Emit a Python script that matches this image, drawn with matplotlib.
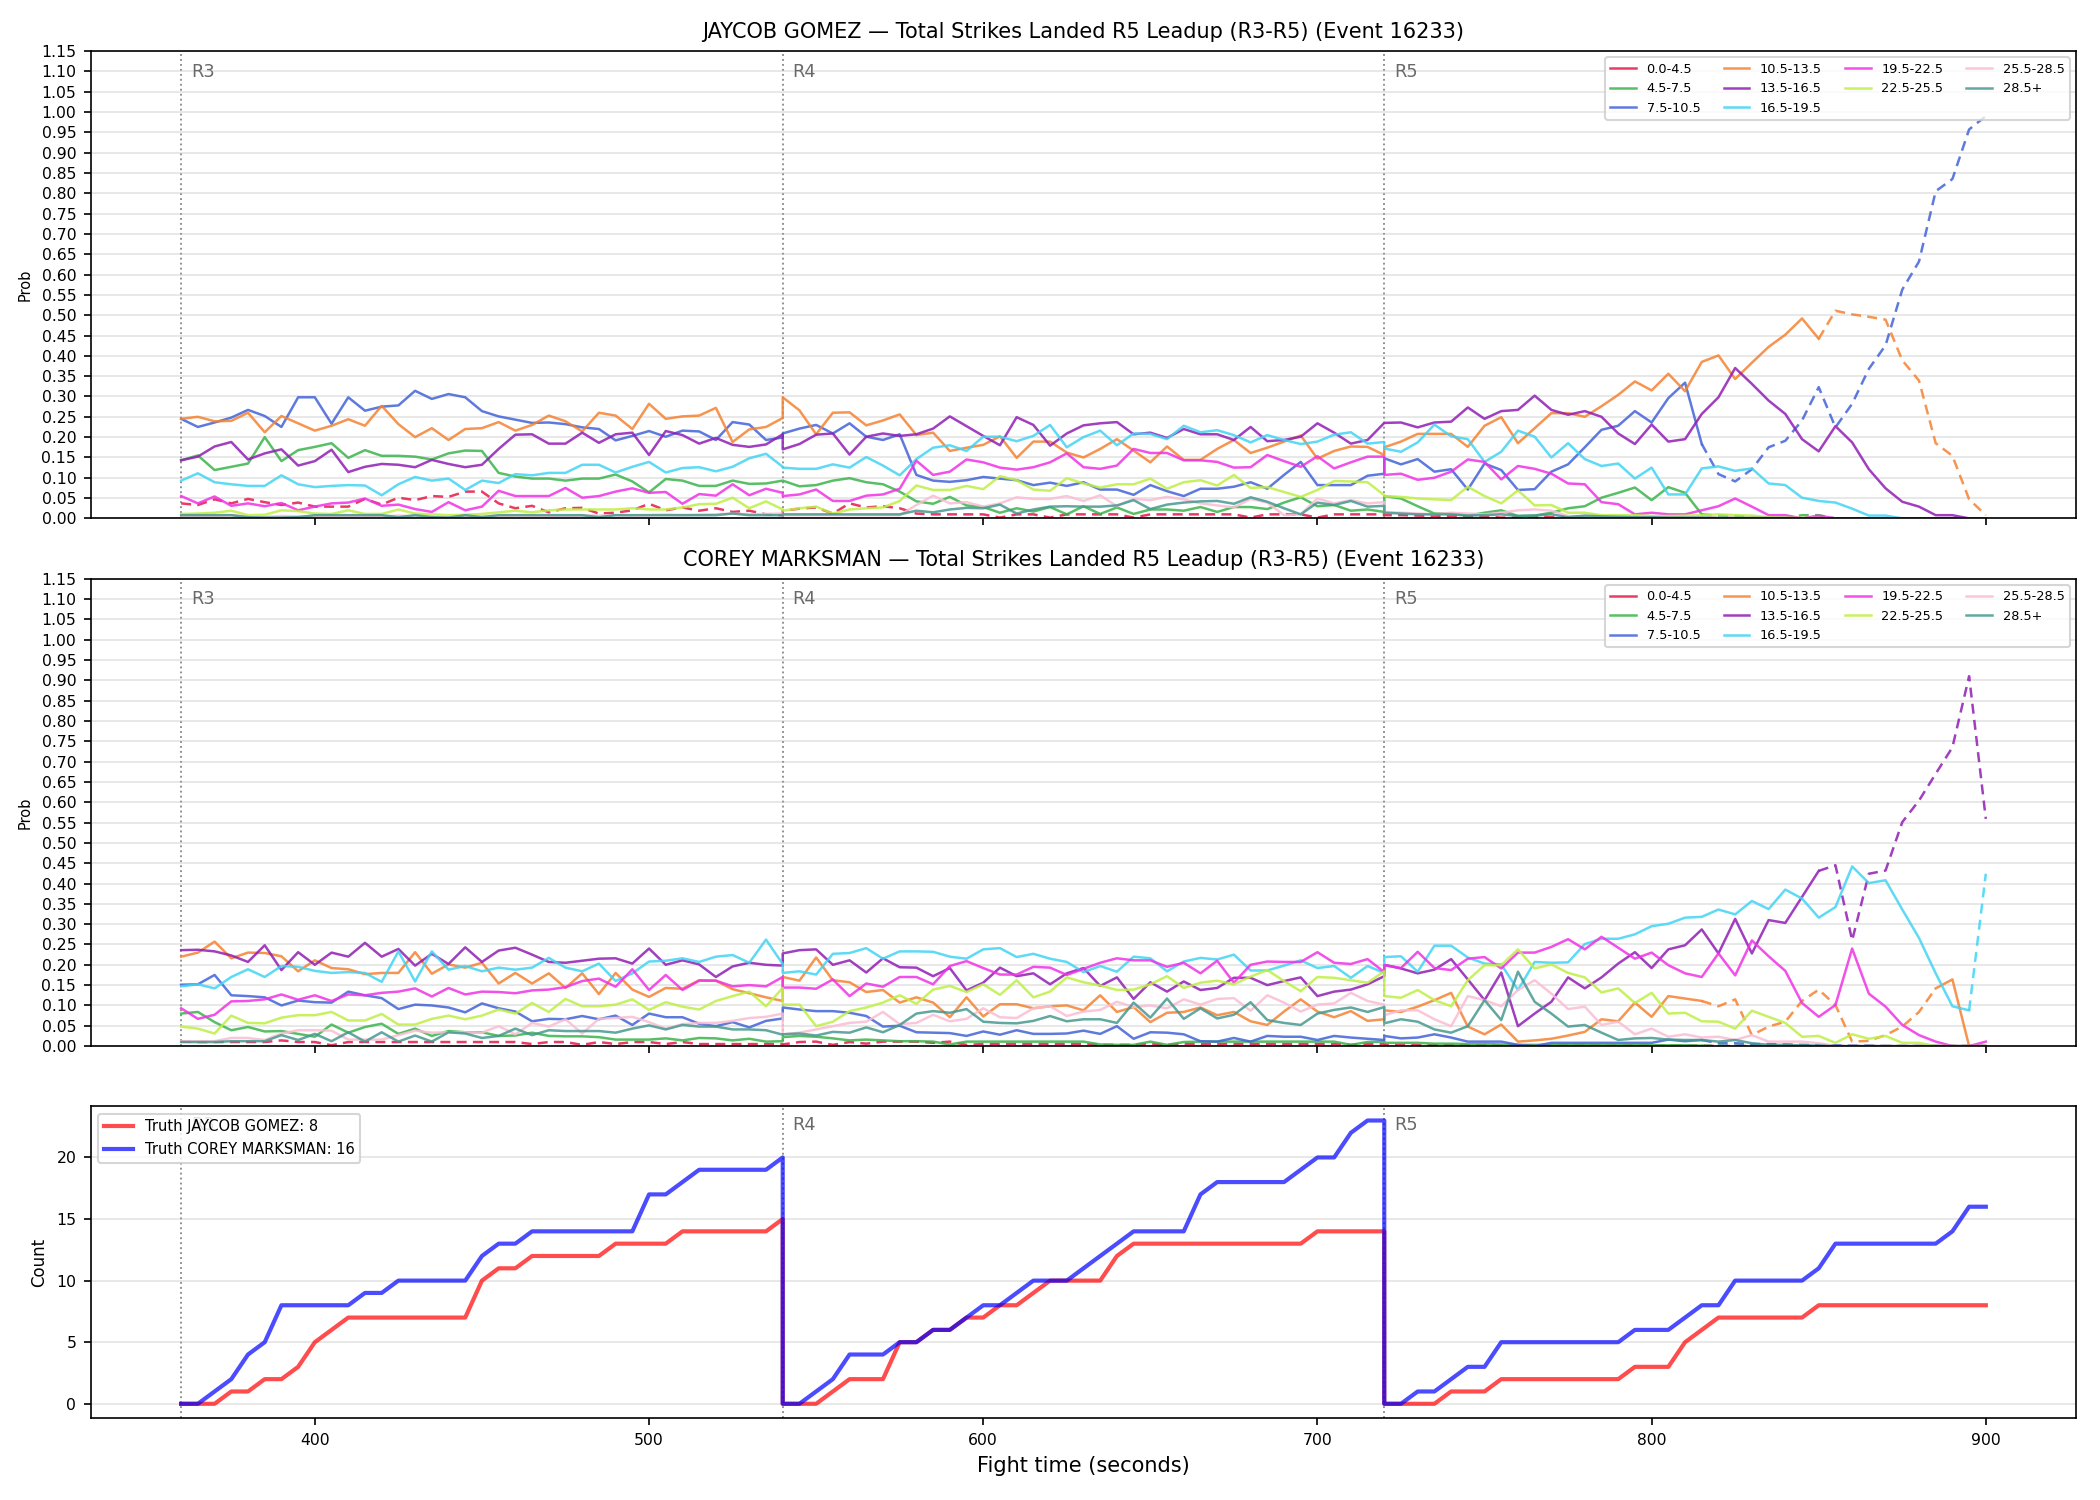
import numpy as np
import matplotlib
matplotlib.use("Agg")
import matplotlib.pyplot as plt
from matplotlib.lines import Line2D

# ---------------- data ----------------
ROUND_STARTS = [360, 540, 720]
ROUND_NAMES = ["R3", "R4", "R5"]
ROUND_LEN = 180
STEP = 5

BIN_LABELS = ["0.0-4.5", "4.5-7.5", "7.5-10.5", "10.5-13.5", "13.5-16.5",
              "16.5-19.5", "19.5-22.5", "22.5-25.5", "25.5-28.5", "28.5+"]
BIN_COLORS = ["#e6194b", "#3cb44b", "#4363d8", "#f58231", "#911eb4",
              "#42d4f4", "#f032e6", "#bfef45", "#fabed4", "#469990"]

# Probabilities in percent, 37 samples per round (R3, R4, R5)
# ---- JAYCOB GOMEZ ----
JG_0_4 = [3.7,3.3,4.7,3.7,4.8,4.0,3.3,3.9,2.9,2.9, 2.9,4.8,3.4,5.1,4.5,5.5,5.3,6.6,6.6,3.7, 2.5,3.1,1.5,2.5,2.6,1.2,1.4,2.0,3.6,2.0, 2.7,1.9,2.5,1.6,1.9,1.0,0.8,
          1.9,2.4,2.7,1.2,3.7,2.7,3.0,2.5,1.2,1.0, 1.0,1.0,1.0,0.2,1.0,1.0,0.2,1.0,1.0,1.0, 1.0,0.2,1.0,1.0,1.0,1.0,1.0,1.0,0.2,1.0, 1.0,1.0,0.2,1.0,1.0,1.0,1.0,
          0.8,0.8,0.7,0.6,0.5,0.5,0.4,0.2,0.2,0.3, 0.3,0.2,0.2,0.1,0.1,0.1,0.1,0.1,0.1,0.1, 0.1,0.1,0.1,0.1,0.1,0.0,0.0,0.0,0.0,0.0, 0.0,0.0,0.0,0.0,0.0,0.0,0.0]
JG_4_7 = [14.3,15.5,11.9,12.7,13.5,20.0,14.1,16.8,17.6,18.5, 14.9,16.8,15.4,15.4,15.2,14.5,16.0,16.7,16.6,11.2, 10.3,9.8,9.8,9.3,9.8,9.8,10.8,9.1,6.4,9.7, 9.3,8.0,8.0,9.3,8.5,8.6,9.3,
          9.3,7.9,8.2,9.3,9.9,8.9,8.4,6.6,4.2,3.6, 5.3,3.2,2.8,1.4,2.5,1.7,2.8,1.0,3.0,1.1, 2.7,1.1,2.2,2.2,1.9,2.8,1.6,2.8,2.8,2.3, 3.9,5.2,3.0,3.3,1.9,2.2,1.6,
          5.5,4.9,3.0,1.2,1.2,0.7,1.4,2.0,0.6,0.7, 1.4,2.5,3.0,5.1,6.3,7.6,4.5,7.7,6.3,1.0, 0.7,0.7,0.3,0.0,0.0,0.8,0.8,0.0,0.0,0.0, 0.0,0.0,0.0,0.0,0.0,0.0,0.0]
JG_7_10 = [24.5,22.5,23.6,24.8,26.7,25.2,22.5,29.8,29.8,23.3, 29.8,26.5,27.5,27.8,31.4,29.4,30.6,29.8,26.4,25.1, 24.3,23.5,23.6,23.2,22.4,22.0,19.2,20.3,21.5,20.1, 21.6,21.4,19.3,23.7,23.1,19.3,19.9,
           20.9,22.1,23.0,20.9,23.4,20.1,19.3,20.7,10.7,9.3, 9.0,9.4,10.2,9.8,9.4,8.2,8.8,8.0,8.9,7.1, 7.1,5.8,8.2,6.7,5.5,7.3,7.3,7.8,8.9,7.3, 10.7,13.9,8.2,8.2,8.2,10.5,11.0,
           14.8,13.3,14.6,11.5,12.1,7.1,13.5,11.9,7.0,7.2, 11.5,13.3,17.5,21.8,22.8,26.4,23.6,29.6,33.4,18.3, 10.9,9.1,12.1,17.5,19.1,24.1,32.3,22.4,28.2,36.8, 42.6,56.3,63.2,80.5,83.5,95.7,99.0]
JG_10_13 = [24.5,25.0,23.9,24.0,26.0,21.2,25.2,23.4,21.6,22.8, 24.4,22.8,27.7,23.2,20.0,22.2,19.3,22.0,22.2,23.7, 21.6,23.0,25.3,23.9,21.4,26.0,25.3,22.0,28.2,24.5, 25.1,25.3,27.2,18.8,21.9,22.5,24.7,
            29.8,26.6,20.7,26.0,26.1,22.9,24.1,25.6,20.5,21.1, 16.6,17.4,18.1,20.2,14.9,18.9,18.9,16.2,15.0,17.1, 19.5,16.7,13.8,17.7,14.4,14.4,17.1,19.3,16.1,17.4, 18.9,20.4,14.7,16.6,17.7,17.6,15.6,
            17.5,18.9,20.8,20.8,20.8,17.6,22.8,24.9,18.5,22.2, 25.9,25.9,25.0,27.6,30.4,33.7,31.5,35.6,31.3,38.5, 40.1,34.3,38.3,42.2,45.2,49.2,44.2,51.1,50.2,49.6, 48.9,38.9,33.9,18.5,15.4,4.7,0.8]
JG_13_16 = [14.3,15.2,17.7,18.8,14.5,16.0,17.0,13.0,14.1,16.9, 11.4,12.7,13.4,13.2,12.6,14.4,13.4,12.6,13.2,17.1, 20.6,20.7,18.4,18.4,21.1,18.6,20.7,21.1,15.6,21.5, 20.5,18.4,19.8,18.1,17.6,18.2,20.7,
            17.0,18.3,20.6,20.9,15.7,20.1,20.9,20.3,20.7,22.1, 25.1,22.7,20.3,18.0,24.9,23.0,17.9,20.9,22.9,23.4, 23.7,20.7,21.1,19.8,22.0,20.7,20.7,19.3,22.5,19.0, 19.3,20.1,23.4,21.1,18.4,19.3,23.5,
            23.5,23.6,22.4,23.6,23.8,27.3,24.5,26.4,26.7,30.2, 26.7,25.5,26.4,25.0,20.9,18.3,23.1,18.9,19.5,25.7, 29.8,37.0,33.1,29.0,25.7,19.5,16.5,22.7,18.7,12.1, 7.4,4.1,2.9,0.8,0.8,0.0,0.0]
JG_16_19 = [9.3,11.1,8.9,8.4,8.0,8.0,10.6,8.4,7.7,8.0, 8.2,8.1,5.7,8.4,10.2,9.3,9.8,7.0,9.3,8.7, 10.9,10.6,11.2,11.2,13.2,13.2,11.3,12.7,13.9,11.3, 12.4,12.6,11.6,12.7,14.8,15.9,12.7,
            12.5,12.2,12.2,13.3,12.5,15.1,13.0,10.6,14.6,17.4, 18.0,16.6,20.1,20.1,19.0,20.3,23.0,17.5,20.0,21.6, 18.0,20.9,20.8,19.5,22.8,21.2,21.7,20.5,18.7,20.5, 19.3,18.3,18.9,20.6,21.2,18.4,18.8,
            17.2,16.4,18.7,23.1,20.2,19.5,13.9,16.4,21.6,20.1, 15.0,18.5,14.6,12.9,13.5,9.8,12.5,5.9,5.9,12.3, 12.8,11.7,12.3,8.6,8.2,5.1,4.3,3.9,2.4,0.7, 0.7,0.0,0.0,0.0,0.0,0.0,0.0]
JG_19_22 = [5.5,3.7,5.4,3.1,3.7,3.0,3.8,2.0,2.9,3.7, 3.9,4.9,3.1,3.4,2.3,1.6,4.0,2.0,2.9,6.8, 5.5,5.5,5.5,7.5,5.1,5.5,6.6,7.4,6.3,6.5, 3.6,6.0,5.6,8.4,5.7,7.3,6.3,
            5.5,5.9,7.1,4.3,4.3,5.6,5.9,7.3,14.2,10.7, 11.5,14.5,13.8,12.5,12.0,12.6,13.8,16.0,12.6,12.2, 13.0,17.1,16.1,16.1,14.3,14.3,13.9,12.5,12.6,15.6, 14.1,12.7,15.3,12.3,13.8,15.2,15.2,
            10.7,11.0,9.5,10.0,11.5,14.5,13.9,9.6,12.9,12.2, 11.0,8.6,8.4,4.0,3.5,1.0,1.4,1.0,1.0,2.0, 3.0,4.9,2.9,0.8,0.8,0.0,0.7,0.0,0.0,0.0, 0.0,0.0,0.0,0.0,0.0,0.0,0.0]
JG_22_25 = [1.1,1.2,1.4,1.9,0.8,0.9,2.0,1.8,1.2,1.1, 2.0,1.1,1.1,2.2,1.2,1.0,0.8,0.9,1.1,1.5, 1.9,1.5,2.0,2.2,2.2,2.2,2.2,2.5,2.2,2.2, 2.7,3.5,3.6,5.1,2.5,4.2,2.2,
            1.9,2.5,2.9,1.2,2.2,2.5,2.7,4.3,8.1,7.0, 7.0,8.0,7.2,10.4,9.4,7.1,6.8,9.9,8.6,7.6, 8.4,8.4,9.8,7.3,8.9,9.4,8.1,10.7,7.5,7.7, 6.5,5.3,7.0,9.2,9.1,8.9,5.7,
            5.5,5.3,4.9,4.7,4.5,7.8,5.5,3.7,6.9,3.2, 3.3,1.4,1.4,0.8,0.8,0.8,0.6,0.6,0.7,0.8, 1.0,0.8,0.7,0.3,0.2,0.1,0.1,0.0,0.0,0.0, 0.0,0.0,0.0,0.0,0.0,0.0,0.0]
JG_25_28 = [0.5,0.6,0.6,0.8,0.5,0.4,0.6,0.5,0.4,0.5, 0.6,0.5,0.5,0.7,0.5,0.5,0.4,0.5,0.6,0.6, 0.7,0.6,0.5,0.6,0.7,0.7,0.8,0.7,0.8,0.9, 0.8,0.9,1.0,1.2,1.0,1.1,1.2,
            0.8,0.8,0.8,0.8,0.8,0.8,0.8,0.8,3.3,5.6, 3.7,4.0,2.9,3.7,5.2,4.8,4.8,5.5,4.3,5.7, 3.0,4.8,4.5,5.3,4.7,3.7,3.2,2.7,4.8,3.9, 0.8,1.0,4.9,3.7,4.5,3.7,4.0,
            1.6,1.4,1.2,1.0,1.4,1.2,1.0,1.4,2.0,2.2, 1.9,0.6,0.5,0.4,0.3,0.3,0.2,0.2,0.2,0.2, 0.1,0.1,0.1,0.1,0.1,0.0,0.0,0.0,0.0,0.0, 0.0,0.0,0.0,0.0,0.0,0.0,0.0]
JG_28P = [0.8,0.8,0.8,0.8,0.3,0.2,0.2,0.3,0.8,0.8, 0.8,0.8,0.8,0.3,0.8,0.3,0.2,0.8,0.3,0.8, 0.8,0.8,0.8,0.8,0.8,0.3,0.8,0.8,0.8,0.8, 0.8,0.8,0.8,1.2,0.8,0.8,0.8,
          1.0,1.0,1.0,1.0,1.0,1.0,1.0,1.0,1.9,1.5, 2.2,2.6,2.5,3.4,1.2,2.2,2.9,3.0,2.9,2.9, 3.2,4.5,2.3,3.4,3.9,4.2,4.3,3.6,5.2,4.1, 2.5,1.0,3.9,3.3,4.3,2.9,3.1,
          1.4,1.2,1.0,1.0,1.0,0.7,0.8,1.0,0.6,0.7, 1.0,0.3,0.7,0.5,0.4,0.3,0.3,0.2,0.2,0.2, 0.1,0.1,0.1,0.1,0.1,0.0,0.0,0.0,0.0,0.0, 0.0,0.0,0.0,0.0,0.0,0.0,0.0]

# ---- COREY MARKSMAN ----
CM_0_4 = [1.1,1.0,1.0,1.0,1.0,1.0,1.4,1.0,1.0,0.2, 1.0,1.0,1.0,1.0,1.0,1.0,1.0,1.0,1.0,1.0, 1.0,0.5,1.0,1.0,0.3,1.0,0.5,1.0,1.0,0.5, 1.0,0.5,0.5,0.5,0.5,0.5,0.5,
          0.4,1.0,1.1,0.3,1.0,0.6,1.1,1.1,1.1,0.8, 1.1,0.3,0.5,0.5,0.5,0.5,0.5,0.5,0.5,0.3, 0.3,0.3,0.5,0.3,0.5,0.5,0.5,0.5,0.5,0.5, 0.5,0.5,0.5,0.5,0.3,0.5,0.5,
          0.3,0.3,0.2,0.2,0.2,0.2,0.2,0.1,0.1,0.1, 0.1,0.1,0.1,0.1,0.1,0.1,0.1,0.1,0.1,0.1, 0.0,0.0,0.0,0.0,0.0,0.0,0.0,0.0,0.0,0.0, 0.0,0.0,0.0,0.0,0.0,0.0,0.0]
CM_4_7 = [8.0,8.4,5.9,3.9,4.7,3.6,3.7,3.0,2.3,5.3, 3.3,4.7,5.5,3.0,4.3,2.5,3.7,3.4,3.4,2.5, 2.6,3.3,2.5,2.4,2.4,2.2,1.6,1.6,1.6,1.9, 1.4,2.0,1.9,1.4,1.8,1.1,1.2,
          2.2,2.5,2.3,1.9,1.4,1.6,1.4,1.2,1.2,1.1, 0.4,1.1,1.1,1.1,1.1,1.1,1.1,1.1,1.1,0.4, 0.3,0.3,1.1,0.3,1.0,1.1,1.1,1.1,1.1,1.1, 1.1,1.1,1.1,1.1,0.3,1.0,1.1,
          0.8,0.8,0.8,0.6,0.6,0.5,0.5,0.4,0.3,0.3, 0.3,0.3,0.3,0.2,0.2,0.2,0.2,0.2,0.2,0.1, 0.1,0.1,0.1,0.1,0.1,0.1,0.0,0.0,0.0,0.0, 0.0,0.0,0.0,0.0,0.0,0.0,0.0]
CM_7_10 = [15.1,15.2,17.5,12.5,12.3,12.0,10.0,11.2,10.8,10.7, 13.4,12.5,11.8,9.1,10.2,10.0,9.5,8.3,10.5,9.3, 8.5,6.1,6.7,6.6,7.4,6.6,7.5,5.2,8.0,7.1, 7.1,5.5,4.9,5.9,4.6,6.2,6.8,
           9.5,9.0,8.6,8.6,8.2,7.4,4.8,5.0,3.4,3.3, 3.2,2.5,3.6,2.8,3.9,3.0,3.0,3.1,3.8,3.0, 4.9,1.8,3.4,3.3,2.9,1.2,1.1,2.0,1.1,2.5, 2.3,2.3,1.5,2.5,2.1,1.8,1.5,
           2.5,1.9,2.1,2.9,2.1,1.1,1.1,1.1,0.3,0.0, 0.8,0.8,0.8,0.8,0.8,0.8,0.8,1.6,1.2,1.5, 0.7,0.7,0.5,0.5,0.4,0.3,0.3,0.2,0.1,0.1, 0.0,0.0,0.0,0.0,0.0,0.0,0.0]
CM_10_13 = [22.0,23.0,25.7,21.6,23.0,22.9,22.1,18.4,21.1,19.2, 18.9,17.7,18.0,18.0,23.1,17.8,20.1,19.3,20.5,15.4, 18.0,15.4,17.9,14.3,17.9,12.8,18.0,13.9,12.1,14.3, 14.1,16.2,16.1,14.0,13.0,12.0,11.1,
            17.0,16.1,21.8,16.2,15.7,13.3,13.8,10.7,12.0,10.7, 7.1,12.0,7.3,10.3,10.3,9.3,9.8,10.0,8.8,12.5, 8.4,9.6,5.9,8.2,8.4,9.5,7.6,8.4,6.1,5.2, 8.5,11.5,8.5,7.1,8.6,6.2,6.6,
            8.8,8.4,9.7,11.3,13.1,4.8,2.9,5.3,1.1,1.4, 1.8,2.6,3.5,6.6,6.1,10.7,7.2,12.3,11.7,11.1, 9.8,11.5,2.7,4.8,6.0,11.1,13.9,10.1,1.1,1.3, 2.7,4.8,8.4,14.2,16.4,0.0,0.0]
CM_13_16 = [23.6,23.7,23.3,22.3,20.7,24.8,18.7,23.1,20.0,23.0, 22.0,25.4,22.0,23.9,19.8,22.7,20.2,24.3,20.7,23.5, 24.2,22.5,20.7,20.5,21.0,21.5,21.6,20.3,24.0,20.0, 21.1,20.1,17.0,19.6,20.5,20.0,19.8,
            22.8,23.6,23.8,20.0,21.1,18.1,21.6,19.4,19.3,17.2, 19.2,13.7,15.6,19.3,17.2,17.9,15.2,17.9,19.2,14.8, 16.9,11.6,15.7,13.4,15.9,13.8,14.3,16.8,16.8,15.0, 16.0,16.9,12.3,13.4,13.9,15.2,17.2,
            20.0,19.1,17.9,18.8,21.4,16.4,11.3,18.1,4.9,8.0, 10.9,16.9,14.2,16.9,20.3,23.1,19.2,23.8,24.8,28.7, 22.8,31.3,22.8,31.0,30.3,36.7,43.1,44.5,26.0,42.4, 43.2,55.1,60.4,67.0,73.5,91.0,55.9]
CM_16_19 = [14.7,15.2,14.2,17.0,18.9,17.0,19.7,19.5,18.5,18.0, 18.2,18.0,15.8,23.3,15.9,23.3,18.8,19.7,18.4,19.3, 18.8,19.3,21.7,19.3,18.4,20.3,16.0,17.9,20.8,21.0, 21.6,20.7,22.0,22.4,20.5,26.2,20.2,
            18.0,18.4,17.6,22.7,22.9,24.1,21.5,23.3,23.3,23.2, 22.0,21.5,23.8,24.1,21.9,22.7,21.5,20.7,18.2,19.7, 18.3,22.0,21.6,18.4,20.8,21.7,21.3,22.5,18.6,18.6, 19.8,21.1,19.2,19.7,16.8,19.7,18.0,
            21.9,22.1,18.3,24.7,24.7,21.8,20.3,20.1,13.8,20.7, 20.5,20.6,25.1,26.4,26.4,27.5,29.5,30.1,31.6,31.8, 33.6,32.4,35.7,33.7,38.5,36.3,31.6,34.2,44.2,40.1, 40.8,33.6,26.6,17.9,9.8,8.8,42.4]
CM_19_22 = [9.3,6.7,7.7,11.0,11.1,11.5,12.7,11.4,12.5,11.1, 12.7,12.5,13.1,13.4,14.2,12.2,14.3,12.7,13.4,13.3, 13.0,13.7,13.9,14.5,16.0,16.6,14.6,18.9,13.8,17.5, 13.8,16.1,16.1,14.7,15.0,14.7,17.0,
            14.4,14.4,14.1,16.4,12.3,15.4,14.6,17.0,17.0,15.2, 19.7,20.9,19.2,17.6,17.6,19.5,19.3,17.5,19.0,20.5, 21.6,21.1,21.1,19.5,20.5,17.9,21.0,15.6,20.0,20.8, 20.7,20.7,23.1,20.5,20.2,21.4,18.2,
            19.9,19.2,23.2,19.2,18.7,21.5,21.9,19.1,23.0,23.0, 24.4,26.3,23.8,26.9,24.2,21.5,23.0,19.9,17.9,17.0, 22.8,17.4,26.0,22.1,18.5,10.6,7.2,10.1,24.0,12.9, 9.7,5.2,2.7,1.1,0.0,0.0,1.1]
CM_22_25 = [4.8,4.3,3.1,7.5,5.7,5.6,7.0,7.6,7.6,8.4, 6.3,6.3,7.9,5.3,5.3,6.7,7.5,6.6,7.5,9.0, 8.0,10.6,8.4,11.6,9.8,9.8,10.2,11.5,8.9,10.8, 9.7,9.0,11.1,12.3,13.4,9.8,14.3,
            10.2,10.2,4.9,6.0,8.6,9.5,10.7,12.5,10.4,13.9, 14.8,13.3,15.2,12.6,16.2,12.0,13.4,16.9,15.7,14.9, 13.8,13.9,15.2,17.2,14.3,15.6,16.1,15.2,17.1,18.7, 16.0,13.5,17.0,16.8,16.2,15.6,18.4,
            12.3,11.9,13.8,11.3,9.8,16.2,19.9,19.9,23.8,19.1, 20.1,18.0,16.9,13.2,14.2,10.6,13.1,8.0,8.2,6.1, 6.0,4.3,8.7,7.2,5.7,2.3,2.5,0.8,2.9,1.8, 2.5,0.8,0.8,0.0,0.0,0.0,0.0]
CM_25_28 = [1.2,1.2,1.2,2.0,2.0,1.5,3.1,3.9,3.9,3.8, 1.6,1.6,1.6,2.7,3.8,3.3,3.4,3.4,3.3,4.9, 2.9,5.7,4.8,6.6,3.1,6.7,6.9,7.2,5.9,4.3, 5.4,5.7,5.7,6.2,6.9,7.2,8.0,
            2.9,3.3,4.1,4.9,5.7,6.0,8.4,5.4,5.7,7.7, 6.1,6.7,9.3,7.1,6.9,9.3,9.8,7.4,8.5,8.9, 10.9,9.6,10.0,9.3,11.5,10.2,11.6,11.8,8.7,12.5, 10.7,8.5,10.2,10.5,13.1,11.1,10.2,
            7.6,8.8,8.8,6.6,4.9,12.3,11.3,9.8,13.8,16.2, 12.9,9.1,9.7,5.2,6.0,2.9,4.3,2.3,2.9,2.1, 2.3,1.5,2.7,1.1,1.1,1.1,0.7,0.0,0.0,0.0, 0.0,0.0,0.0,0.0,0.0,0.0,0.0]
CM_28P = [1.0,1.0,1.0,1.2,1.2,1.2,2.7,1.5,3.0,1.2, 3.4,1.1,3.4,1.1,2.6,1.1,3.4,3.1,2.0,2.5, 4.3,2.7,3.9,3.7,3.7,3.7,3.3,4.3,5.1,4.1, 5.2,4.8,4.8,4.1,4.1,3.9,2.8,
          2.9,3.1,2.6,3.5,3.3,4.6,3.4,5.2,8.0,8.6, 8.2,9.1,6.0,5.7,5.6,6.2,7.4,6.1,6.6,6.6, 5.7,10.7,7.0,11.7,6.7,9.3,6.8,7.7,10.8,6.4, 5.7,5.2,8.0,8.9,9.5,8.4,9.6,
          5.6,6.6,6.0,4.1,3.3,4.9,11.3,6.4,18.3,10.9, 8.0,4.8,5.2,3.3,1.5,1.9,2.0,1.6,1.5,1.5, 1.1,1.5,0.7,0.3,0.3,0.2,0.1,0.0,0.0,0.0, 0.0,0.0,0.0,0.0,0.0,0.0,0.0]

# Time ranges drawn dashed, per bin
JG_DASHED = {"0.0-4.5": [(360, 900)], "4.5-7.5": [(815, 900)],
             "7.5-10.5": [(815, 900)], "10.5-13.5": [(850, 900)]}
CM_DASHED = {"0.0-4.5": [(360, 900)], "4.5-7.5": [(815, 900)], "7.5-10.5": [(815, 900)],
             "10.5-13.5": [(815, 885)], "13.5-16.5": [(850, 900)], "16.5-19.5": [(895, 900)]}

# Cumulative strikes landed within each round (R3, R4, R5), 37 samples per round
TRUTH_JG = [0,0,0,1,1,2,2,3,5,6, 7,7,7,7,7,7,7,7,10,11, 11,12,12,12,12,12,13,13,13,13, 14,14,14,14,14,14,15,
            0,0,0,1,2,2,2,5,5,6, 6,7,7,8,8,9,10,10,10,10, 12,13,13,13,13,13,13,13,13,13, 13,13,14,14,14,14,14,
            0,0,0,0,1,1,1,2,2,2, 2,2,2,2,2,3,3,3,5,6, 7,7,7,7,7,7,8,8,8,8, 8,8,8,8,8,8,8]
TRUTH_CM = [0,0,1,2,4,5,8,8,8,8, 8,9,9,10,10,10,10,10,12,13, 13,14,14,14,14,14,14,14,17,17, 18,19,19,19,19,19,20,
            0,0,1,2,4,4,4,5,5,6, 6,7,8,8,9,10,10,10,11,12, 13,14,14,14,14,17,18,18,18,18, 18,19,20,20,22,23,23,
            0,0,1,1,2,3,3,5,5,5, 5,5,5,5,5,6,6,6,7,8, 8,10,10,10,10,10,11,13,13,13, 13,13,13,13,14,16,16]
TRUTH_FINAL = {"JAYCOB GOMEZ": 8, "COREY MARKSMAN": 16}

TITLE_SUFFIX = "Total Strikes Landed R5 Leadup (R3-R5) (Event 16233)"

# ---------------- plotting ----------------
TIMES = np.concatenate([np.arange(s, s + ROUND_LEN + 1, STEP) for s in ROUND_STARTS])

JG_SERIES = [JG_0_4, JG_4_7, JG_7_10, JG_10_13, JG_13_16, JG_16_19, JG_19_22, JG_22_25, JG_25_28, JG_28P]
CM_SERIES = [CM_0_4, CM_4_7, CM_7_10, CM_10_13, CM_13_16, CM_16_19, CM_19_22, CM_22_25, CM_25_28, CM_28P]


def draw_styled(ax, t, y, color, intervals):
    n = len(t)
    seg_dash = [any(a <= t[i] and t[i + 1] <= b for a, b in intervals) for i in range(n - 1)]
    i0 = 0
    while i0 < n - 1:
        i1 = i0
        while i1 + 1 < n - 1 and seg_dash[i1 + 1] == seg_dash[i0]:
            i1 += 1
        ax.plot(t[i0:i1 + 2], y[i0:i1 + 2], color=color, lw=1.2, alpha=0.85,
                ls=(0, (4, 2.5)) if seg_dash[i0] else "-")
        i0 = i1 + 1


def vlines(ax, label_y_axes=0.975, fs=8.5):
    for s, name in zip(ROUND_STARTS, ROUND_NAMES):
        ax.axvline(s, color="gray", ls=":", lw=0.9, alpha=0.9, zorder=1)
        ax.text(s + 3, label_y_axes, name, transform=ax.get_xaxis_transform(),
                va="top", ha="left", color="dimgray", fontsize=fs, zorder=2)


def prob_panel(ax, series, dashed, fighter):
    for lab, col, vals in zip(BIN_LABELS, BIN_COLORS, series):
        y = np.asarray(vals, dtype=float) / 100.0
        draw_styled(ax, TIMES, y, col, dashed.get(lab, []))
    vlines(ax)
    ax.set_ylim(0, 1.15)
    ax.set_yticks(np.round(np.arange(0, 1.1501, 0.05), 2))
    ax.grid(True, axis="y", color="#b0b0b0", alpha=0.35, lw=0.8)
    ax.set_ylabel("Prob", fontsize=7)
    ax.set_title(f"{fighter} \u2014 {TITLE_SUFFIX}", fontsize=10)
    handles = [Line2D([0], [0], color=c, lw=1.2, alpha=0.85) for c in BIN_COLORS]
    leg = ax.legend(handles, BIN_LABELS, loc="upper right", ncol=4, fontsize=6.2,
                    framealpha=0.8, handlelength=2.0, columnspacing=1.8)
    leg.set_zorder(5)


fig, axes = plt.subplots(3, 1, figsize=(14, 10), dpi=150, sharex=True,
                         gridspec_kw={"height_ratios": [3, 3, 2]})
fig.subplots_adjust(left=0.0433, right=0.9886, top=0.966, bottom=0.0547, hspace=0.145)

prob_panel(axes[0], JG_SERIES, JG_DASHED, "JAYCOB GOMEZ")
prob_panel(axes[1], CM_SERIES, CM_DASHED, "COREY MARKSMAN")

ax = axes[2]
names = list(TRUTH_FINAL.keys())
ax.plot(TIMES, TRUTH_JG, color="red", lw=2, alpha=0.7,
        label=f"Truth {names[0]}: {TRUTH_FINAL[names[0]]}")
ax.plot(TIMES, TRUTH_CM, color="blue", lw=2, alpha=0.7,
        label=f"Truth {names[1]}: {TRUTH_FINAL[names[1]]}")
vlines(ax, label_y_axes=0.97)
ax.grid(True, axis="y", color="#b0b0b0", alpha=0.35, lw=0.8)
ax.set_ylabel("Count", fontsize=8)
ax.set_xlabel("Fight time (seconds)", fontsize=10)
ax.set_yticks([0, 5, 10, 15, 20])
leg = ax.legend(loc="upper left", fontsize=7, framealpha=0.8)
leg.set_zorder(5)

for a in axes:
    a.tick_params(labelsize=7.5)

fig.savefig("out.png", dpi=150)
